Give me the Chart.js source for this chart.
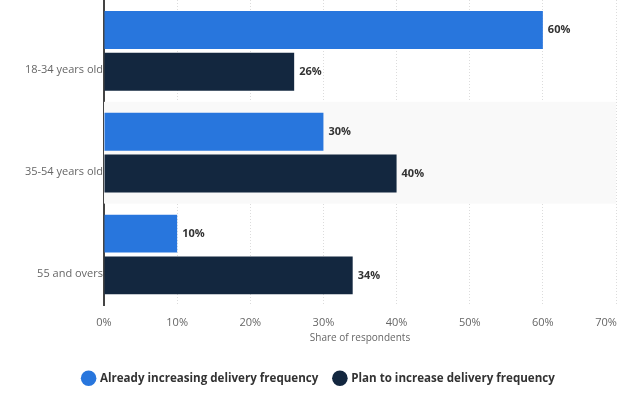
<!DOCTYPE html>
<html lang="en">
<head>
    <meta charset="UTF-8">
    <title>Delivery frequency by age</title>
    <style>
        body {
            margin: 0;
            background-color: #fff;
        }
        #chartContainer {
            width: 624px;
            height: 394px;
        }
    </style>
    <script src="https://cdn.jsdelivr.net/npm/chart.js"></script>
</head>
<body>
    <div id="chartContainer">
        <canvas id="deliveryChart"></canvas>
    </div>

    <script>
        const categories = ['18-34 years old', '35-54 years old', '55 and overs'];
        const alreadyIncreasing = [60, 30, 10];
        const planToIncrease = [26, 40, 34];
        const seriesNames = ['Already increasing delivery frequency', 'Plan to increase delivery frequency'];
        const xTicks = [0, 10, 20, 30, 40, 50, 60, 70];

        const fontFamily = '"Open Sans", Arial, sans-serif';

        // light band behind every second category
        const bandPlugin = {
            id: 'bands',
            beforeDatasetsDraw(chart) {
                const { ctx, chartArea, scales } = chart;
                const y = scales.y;
                const step = (chartArea.bottom - chartArea.top) / categories.length;
                ctx.save();
                ctx.fillStyle = '#f9f9f9';
                categories.forEach(function (c, i) {
                    if (i % 2 === 1) {
                        const mid = y.getPixelForValue(i);
                        ctx.fillRect(chartArea.left, mid - step / 2, chartArea.right - chartArea.left, step);
                    }
                });
                ctx.restore();
            }
        };

        // value labels at the end of each bar
        const labelPlugin = {
            id: 'barLabels',
            afterDatasetsDraw(chart) {
                const { ctx } = chart;
                ctx.save();
                ctx.font = 'bold 11px ' + fontFamily;
                ctx.fillStyle = '#333';
                ctx.textBaseline = 'middle';
                ctx.textAlign = 'left';
                chart.data.datasets.forEach(function (ds, di) {
                    chart.getDatasetMeta(di).data.forEach(function (bar, i) {
                        ctx.fillText(ds.data[i] + '%', bar.x + 5, bar.y);
                    });
                });
                ctx.restore();
            }
        };

        // nudge the legend a little to the right, like the original
        const legendShift = {
            id: 'legendShift',
            afterLayout(chart) {
                if (chart.legend) chart.legend.left += 22;
            }
        };

        document.addEventListener('DOMContentLoaded', function () {
            const ctx = document.getElementById('deliveryChart').getContext('2d');
            new Chart(ctx, {
                type: 'bar',
                data: {
                    labels: categories,
                    datasets: [{
                        label: seriesNames[0],
                        data: alreadyIncreasing,
                        backgroundColor: '#2876dd',
                        categoryPercentage: 0.82,
                        barPercentage: 0.91
                    }, {
                        label: seriesNames[1],
                        data: planToIncrease,
                        backgroundColor: '#13273f',
                        categoryPercentage: 0.82,
                        barPercentage: 0.91
                    }]
                },
                plugins: [bandPlugin, labelPlugin, legendShift],
                options: {
                    indexAxis: 'y',
                    responsive: true,
                    maintainAspectRatio: false,
                    animation: false,
                    layout: {
                        padding: { top: 0, right: 8, bottom: 0, left: 0 }
                    },
                    scales: {
                        x: {
                            min: 0,
                            max: 70,
                            afterBuildTicks: function (scale) {
                                scale.ticks = xTicks.map(function (v) { return { value: v }; });
                            },
                            afterFit: function (scale) {
                                scale.height = 51;
                                scale.paddingRight = 0;
                                scale.paddingLeft = 0;
                            },
                            ticks: {
                                // last label pulled inwards with trailing spaces so it stays on the canvas
                                callback: function (v) {
                                    return v === xTicks[xTicks.length - 1] ? v + '%       ' : v + '%';
                                },
                                color: '#666',
                                padding: 11,
                                font: { family: fontFamily, size: 11 }
                            },
                            grid: {
                                color: '#dcdcdc',
                                drawTicks: false,
                                borderDash: [1, 2]
                            },
                            border: { display: false, dash: [1, 2] },
                            title: {
                                display: true,
                                text: 'Share of respondents',
                                color: '#666',
                                font: { family: fontFamily, size: 10 },
                                padding: { top: 2, bottom: 12 }
                            }
                        },
                        y: {
                            afterFit: function (scale) {
                                scale.width = 104;
                                scale.paddingTop = 0;
                                scale.paddingBottom = 0;
                            },
                            ticks: {
                                color: '#666',
                                padding: 1,
                                labelOffset: 19,
                                font: { family: fontFamily, size: 11 }
                            },
                            grid: { display: false, drawTicks: false },
                            border: { display: true, color: '#444', width: 2 }
                        }
                    },
                    plugins: {
                        legend: {
                            display: true,
                            position: 'bottom',
                            labels: {
                                usePointStyle: true,
                                pointStyle: 'circle',
                                boxWidth: 11,
                                boxHeight: 11,
                                padding: 16,
                                color: '#333',
                                font: { family: fontFamily, size: 11.6, weight: 'bold' }
                            }
                        },
                        tooltip: { enabled: false }
                    }
                }
            });
        });
    </script>
</body>
</html>
